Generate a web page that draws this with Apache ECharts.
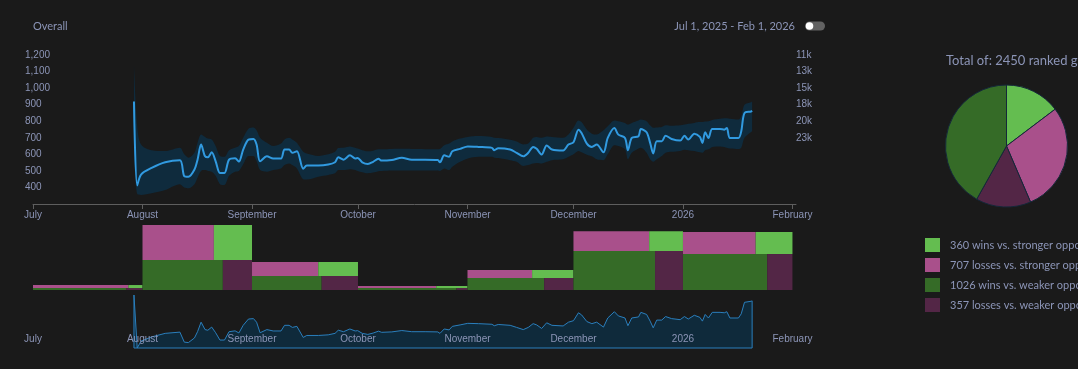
<!DOCTYPE html>
<html><head><meta charset="utf-8">
<script src="https://cdn.jsdelivr.net/npm/echarts@6/dist/echarts.min.js"></script>
<style>html,body{margin:0;padding:0;background:#1a1a1a;}#c{width:1078px;height:369px;}</style>
</head><body><div id="c"></div>
<script>
// ---------- data ----------
const ratingDates = [
'2025-07-29 14:00','2025-07-30 12:00','2025-07-31 14:00','2025-08-03 14:00','2025-08-07 10:00','2025-08-11 14:00','2025-08-12 20:00','2025-08-14 00:00','2025-08-15 17:00','2025-08-16 14:00',
'2025-08-17 14:00','2025-08-18 17:00','2025-08-19 12:00','2025-08-20 14:00','2025-08-21 17:00','2025-08-22 22:00','2025-08-24 05:00','2025-08-25 12:00','2025-08-27 05:00','2025-08-28 07:00',
'2025-08-29 12:00','2025-08-31 00:00','2025-09-01 10:00','2025-09-02 07:00','2025-09-03 07:00','2025-09-05 05:00','2025-09-07 00:00','2025-09-09 05:00','2025-09-10 05:00','2025-09-11 12:00',
'2025-09-12 10:00','2025-09-13 17:00','2025-09-15 12:00','2025-09-16 12:00','2025-09-19 19:00','2025-09-22 14:00','2025-09-24 12:00','2025-09-25 10:00','2025-09-26 22:00','2025-09-28 17:00',
'2025-09-30 05:00','2025-09-30 22:00','2025-10-02 05:00','2025-10-03 19:00','2025-10-05 07:00','2025-10-06 19:00','2025-10-07 17:00','2025-10-10 14:00','2025-10-13 10:00','2025-10-16 05:00',
'2025-10-20 00:00','2025-10-23 14:00','2025-10-24 05:00','2025-10-25 10:00','2025-10-26 19:00','2025-10-27 17:00','2025-10-29 22:00','2025-11-01 02:00','2025-11-04 02:00','2025-11-07 22:00',
'2025-11-08 14:00','2025-11-09 17:00','2025-11-13 02:00','2025-11-14 22:00','2025-11-16 19:00','2025-11-18 05:00','2025-11-19 14:00','2025-11-20 14:00','2025-11-22 00:00','2025-11-23 10:00',
'2025-11-24 22:00','2025-11-28 02:00','2025-11-29 14:00','2025-12-01 00:00','2025-12-02 10:00','2025-12-03 07:00','2025-12-04 19:00','2025-12-06 05:00','2025-12-07 14:00','2025-12-09 12:00',
'2025-12-10 17:00','2025-12-12 14:00','2025-12-13 17:00','2025-12-15 14:00','2025-12-16 10:00','2025-12-17 12:00','2025-12-19 10:00','2025-12-20 02:00','2025-12-21 17:00','2025-12-22 17:00',
'2025-12-23 14:00','2025-12-24 14:00','2025-12-26 00:00','2025-12-27 02:00','2025-12-28 19:00','2025-12-31 05:00','2026-01-01 10:00','2026-01-02 12:00','2026-01-04 05:00','2026-01-05 19:00',
'2026-01-06 12:00','2026-01-07 07:00','2026-01-08 05:00','2026-01-09 07:00','2026-01-11 12:00','2026-01-12 17:00','2026-01-13 10:00','2026-01-14 07:00','2026-01-16 17:00','2026-01-17 12:00',
'2026-01-18 10:00','2026-01-20 07:00','2026-01-20 14:00'];
const rating = [
919,412,478,518,552,564,468,464,508,568,
659,588,582,612,558,488,488,568,576,556,
629,689,693,659,558,588,575,575,629,629,
609,619,513,532,532,538,552,582,568,594,
575,578,552,542,555,573,562,566,579,568,
568,566,552,594,585,619,633,648,645,639,
625,637,629,609,588,609,645,633,599,653,
629,623,659,673,749,729,665,645,659,612,
699,759,719,699,625,699,709,753,733,669,
605,679,679,713,693,683,713,689,725,705,
669,733,699,753,753,749,759,699,699,739,
849,859,863];
const bandLow = [
600,360,355,365,385,420,400,395,420,460,
500,505,500,495,470,420,415,470,495,500,
540,590,590,560,505,495,505,515,535,545,
535,515,450,448,465,475,485,505,505,510,
505,500,492,486,490,498,500,502,503,502,
502,502,500,515,505,525,555,575,585,585,
580,578,565,555,530,535,545,548,545,555,
565,570,585,600,620,612,598,588,570,565,
600,655,650,630,570,610,635,640,610,570,
555,570,590,610,615,620,628,625,620,612,
610,625,630,645,648,645,640,635,632,640,
700,735,740];
const bandHigh = [
1140,770,660,625,620,640,600,580,610,670,
720,705,695,690,650,590,585,625,640,650,
700,755,762,745,700,670,650,665,690,700,
690,670,615,605,590,600,615,638,640,648,
640,635,625,618,622,630,630,632,633,632,
631,630,632,655,665,678,695,705,710,705,
700,698,688,678,660,665,700,705,700,708,
705,700,720,760,805,795,750,725,720,745,
770,805,800,790,780,790,805,810,800,775,
760,762,765,775,772,775,780,785,790,795,
795,798,800,808,815,818,818,815,810,830,
900,915,918];

const monthEdges = ['2025-07-01','2025-08-01','2025-09-01','2025-10-01','2025-11-01','2025-12-01','2026-01-01','2026-02-01'];
const strongerWins   = [4, 125, 54, 6, 32, 63, 76];
const strongerLosses = [27, 234, 90, 15, 50, 141, 150];
const weakerWins     = [17, 226, 94, 18, 89, 298, 284];
const weakerLosses   = [3, 82, 49, 2, 34, 102, 85];

const ratingTicks = [1200,1100,1000,900,800,700,600,500,400];
const rankTickValues = [1200,1100,1000,900,800,700];
const rankTickLabels = ['11k','13k','15k','18k','20k','23k'];
const monthNames = ['January','February','March','April','May','June','July','August','September','October','November','December'];

const pieLabels = ['wins vs. stronger opponents','losses vs. stronger opponents','wins vs. weaker opponents','losses vs. weaker opponents'];
const headerTitle = 'Overall';
const dateRangeText = 'Jul 1, 2025 - Feb 1, 2026';

// ---------- styling ----------
const BG = '#1a1a1a';
const TXT = '#8c95b7';
const C_WS = '#64bd50', C_LS = '#a9508b', C_WW = '#356b27', C_LW = '#532646';
const AXIS_FONT = 'Liberation Sans, Arial, sans-serif';
const UI_FONT = 'Lato, Noto Sans, sans-serif';

const tMin = new Date(2025, 6, 1).getTime();
const tMax = new Date(2026, 1, 2).getTime();
const DAY = 86400000;

function monthLabel(v) {
  const d = new Date(v);
  if (d.getDate() !== 1 || d.getHours() !== 0) return '';
  return d.getMonth() === 0 ? String(d.getFullYear()) : monthNames[d.getMonth()];
}

const totalStrongerWins = strongerWins.reduce((a, b) => a + b, 0);
const totalStrongerLosses = strongerLosses.reduce((a, b) => a + b, 0);
const totalWeakerWins = weakerWins.reduce((a, b) => a + b, 0);
const totalWeakerLosses = weakerLosses.reduce((a, b) => a + b, 0);
const totalGames = totalStrongerWins + totalStrongerLosses + totalWeakerWins + totalWeakerLosses;

const nameWS = totalStrongerWins + ' ' + pieLabels[0];
const nameLS = totalStrongerLosses + ' ' + pieLabels[1];
const nameWW = totalWeakerWins + ' ' + pieLabels[2];
const nameLW = totalWeakerLosses + ' ' + pieLabels[3];

const barData = strongerWins.map((_, i) => [
  monthEdges[i], monthEdges[i + 1],
  strongerWins[i] + strongerLosses[i] + weakerWins[i] + weakerLosses[i],
  strongerWins[i], strongerLosses[i], weakerWins[i], weakerLosses[i]
]);

const ratingData = ratingDates.map((d, i) => [d, rating[i]]);

const timeAxisBase = {
  type: 'time', min: tMin, max: tMax,
  splitNumber: 8, minInterval: 28 * DAY, maxInterval: 31 * DAY,
  splitLine: { show: false }
};

const chart = echarts.init(document.getElementById('c'), null, { renderer: 'canvas' });
chart.setOption({
  backgroundColor: BG,
  animation: false,
  textStyle: { fontFamily: AXIS_FONT },
  grid: [
    { left: 33, right: 282, top: 55, height: 149 },
    { left: 33, right: 282, top: 225, height: 65 },
    { left: 33, right: 282, top: 295, height: 53 }
  ],
  xAxis: [
    Object.assign({}, timeAxisBase, {
      gridIndex: 0,
      axisLine: { show: true, lineStyle: { color: '#5e5e5e', width: 1 } },
      axisTick: { show: true, length: 5, lineStyle: { color: '#5e5e5e' } },
      axisLabel: { color: TXT, fontSize: 10, fontFamily: AXIS_FONT, margin: 6, formatter: monthLabel, hideOverlap: true }
    }),
    Object.assign({}, timeAxisBase, {
      gridIndex: 1, show: false
    }),
    Object.assign({}, timeAxisBase, {
      gridIndex: 2, z: 10,
      axisLine: { show: false }, axisTick: { show: false },
      axisLabel: { color: TXT, fontSize: 10, fontFamily: AXIS_FONT, inside: true, margin: 4, formatter: monthLabel, hideOverlap: true }
    })
  ],
  yAxis: [
    {
      type: 'value', gridIndex: 0, min: 300, max: 1200, interval: 100, position: 'left',
      splitLine: { show: false }, axisLine: { show: false }, axisTick: { show: false },
      axisLabel: {
        color: TXT, fontSize: 10, fontFamily: AXIS_FONT, align: 'left', margin: 8,
        formatter: v => ratingTicks.indexOf(v) >= 0 ? v.toLocaleString('en-US') : ''
      }
    },
    {
      type: 'value', gridIndex: 0, min: 300, max: 1200, interval: 100, position: 'right',
      splitLine: { show: false }, axisLine: { show: false }, axisTick: { show: false },
      axisLabel: {
        color: TXT, fontSize: 10, fontFamily: AXIS_FONT, align: 'left', margin: 0,
        formatter: v => { const k = rankTickValues.indexOf(v); return k >= 0 ? rankTickLabels[k] : ''; }
      }
    },
    { type: 'value', gridIndex: 1, min: 0, max: 'dataMax', show: false, splitLine: { show: false } },
    { type: 'value', gridIndex: 2, min: 'dataMin', max: 'dataMax', show: false, splitLine: { show: false } }
  ],
  legend: {
    orient: 'vertical', left: 925, top: 238, padding: 0,
    icon: 'rect', itemWidth: 15, itemHeight: 14, itemGap: 6,
    selectedMode: false,
    data: [nameWS, nameLS, nameWW, nameLW],
    itemStyle: { borderWidth: 0 },
    textStyle: { color: TXT, fontSize: 11, fontFamily: UI_FONT, padding: [0, 0, 0, 5] }
  },
  graphic: [
    { type: 'text', x: 33, y: 26, style: { text: headerTitle, fill: TXT, font: '11px ' + UI_FONT, verticalAlign: 'middle', align: 'left' } },
    { type: 'text', x: 795, y: 26, style: { text: dateRangeText, fill: TXT, font: '11px ' + UI_FONT, verticalAlign: 'middle', align: 'right' } },
    { type: 'rect', shape: { x: 805, y: 21.5, width: 20, height: 9, r: 4.5 }, style: { fill: '#626262' } },
    { type: 'circle', shape: { cx: 809.5, cy: 26, r: 3.8 }, style: { fill: '#ffffff' } },
    { type: 'text', x: 946, y: 61, style: { text: 'Total of: ' + totalGames + ' ranked games', fill: TXT, font: '13px ' + UI_FONT, verticalAlign: 'middle', align: 'left' } }
  ],
  series: [
    {
      name: 'bandBase', type: 'line', xAxisIndex: 0, yAxisIndex: 0, stack: 'band',
      data: ratingDates.map((d, i) => [d, bandLow[i]]),
      symbol: 'none', smooth: 0.3, silent: true,
      lineStyle: { opacity: 0 }, z: 1
    },
    {
      name: 'band', type: 'line', xAxisIndex: 0, yAxisIndex: 0, stack: 'band',
      data: ratingDates.map((d, i) => [d, bandHigh[i] - bandLow[i]]),
      symbol: 'none', smooth: 0.3, silent: true,
      lineStyle: { opacity: 0 },
      areaStyle: { color: '#0f2b3d', opacity: 1 }, z: 1
    },
    {
      name: 'rating', type: 'line', xAxisIndex: 0, yAxisIndex: 0,
      data: ratingData, symbol: 'none', smooth: 0.3,
      lineStyle: { color: '#319ae0', width: 2 }, z: 3
    },
    {
      name: 'monthly', type: 'custom', xAxisIndex: 1, yAxisIndex: 2,
      data: barData, encode: { x: [0, 1], y: 2 }, silent: true,
      renderItem: function (params, api) {
        const s0 = api.value(0), s1 = api.value(1);
        const sw = api.value(3), sl = api.value(4), ww = api.value(5), wl = api.value(6);
        const st = sw + sl, wt = ww + wl;
        const p0 = api.coord([s0, 0]);
        const p1 = api.coord([s1, 0]);
        const yMid = api.coord([s0, wt])[1];
        const yTop = api.coord([s0, wt + st])[1];
        const W = p1[0] - p0[0];
        const xw = p0[0] + W * (wt ? ww / wt : 0);
        const xs = p0[0] + W * (st ? sl / st : 0);
        return {
          type: 'group',
          children: [
            { type: 'rect', shape: { x: p0[0], y: yMid, width: xw - p0[0], height: p0[1] - yMid }, style: { fill: C_WW } },
            { type: 'rect', shape: { x: xw, y: yMid, width: p1[0] - xw, height: p0[1] - yMid }, style: { fill: C_LW } },
            { type: 'rect', shape: { x: p0[0], y: yTop, width: xs - p0[0], height: yMid - yTop }, style: { fill: C_LS } },
            { type: 'rect', shape: { x: xs, y: yTop, width: p1[0] - xs, height: yMid - yTop }, style: { fill: C_WS } }
          ]
        };
      }
    },
    {
      name: 'overview', type: 'custom', xAxisIndex: 2, yAxisIndex: 3,
      data: ratingData, encode: { x: 0, y: 1 }, silent: true, z: 1,
      renderItem: function (params, api) {
        if (params.dataIndex !== 0) return null;
        const pts = ratingData.map(p => api.coord([p[0], p[1]]));
        const bottom = params.coordSys.y + params.coordSys.height;
        pts.push([pts[pts.length - 1][0], bottom]);
        pts.push([pts[0][0], bottom]);
        return {
          type: 'polygon', shape: { points: pts },
          style: { fill: '#0f2a3b', stroke: '#2a7fbd', lineWidth: 1 }
        };
      }
    },
    {
      name: 'summary', type: 'pie', center: [1006.5, 146], radius: 61,
      startAngle: 90, clockwise: true, silent: true,
      label: { show: false }, labelLine: { show: false },
      itemStyle: { borderColor: '#15283a', borderWidth: 1 },
      data: [
        { name: nameWS, value: totalStrongerWins, itemStyle: { color: C_WS } },
        { name: nameLS, value: totalStrongerLosses, itemStyle: { color: C_LS } },
        { name: nameLW, value: totalWeakerLosses, itemStyle: { color: C_LW } },
        { name: nameWW, value: totalWeakerWins, itemStyle: { color: C_WW } }
      ]
    }
  ]
});
</script></body></html>
